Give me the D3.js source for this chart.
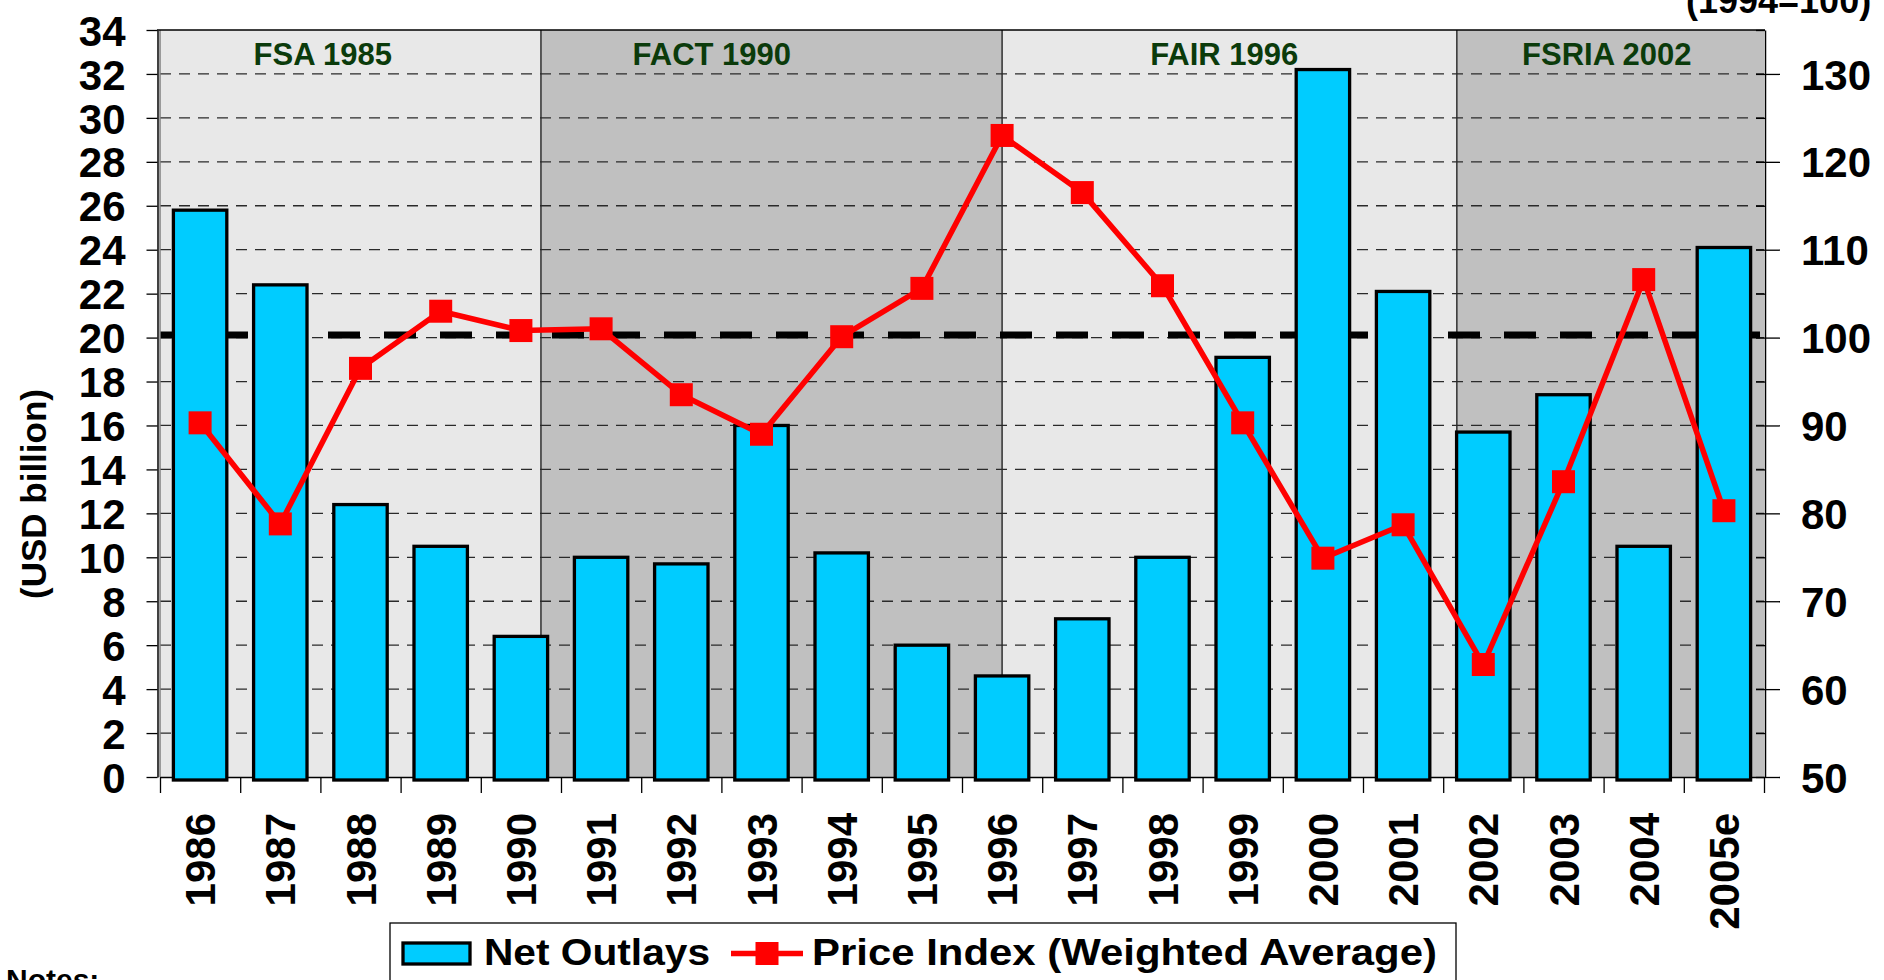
<!DOCTYPE html>
<html>
<head>
<meta charset="utf-8">
<script src="https://cdn.jsdelivr.net/npm/d3@7"></script>
<style>
  body { margin: 0; background: #fff; overflow: hidden; }
  svg { display: block; font-family: "Liberation Sans", Arial, sans-serif; font-weight: bold; }
</style>
</head>
<body>
<script>
// values
var years = ["1986", "1987", "1988", "1989", "1990", "1991", "1992", "1993", "1994", "1995",
  "1996", "1997", "1998", "1999", "2000", "2001", "2002", "2003", "2004", "2005e"];
var netOutlays = [25.8, 22.4, 12.4, 10.5, 6.4, 10.0, 9.7, 16.0, 10.2, 6.0,
  4.6, 7.2, 10.0, 19.1, 32.2, 22.1, 15.7, 17.4, 10.5, 24.1];
var priceIndex = [90.3, 78.8, 96.5, 103.0, 100.8, 101.0, 93.5, 89.0, 100.1, 105.6,
  123.0, 116.5, 105.9, 90.3, 74.9, 78.7, 62.8, 83.6, 106.6, 80.3];
var priceBase = 100.3;
var leftTicks = [0, 2, 4, 6, 8, 10, 12, 14, 16, 18, 20, 22, 24, 26, 28, 30, 32, 34];
var rightTicks = [50, 60, 70, 80, 90, 100, 110, 120, 130];
var seriesNames = ["Net Outlays", "Price Index (Weighted Average)"];

// farm acts, in category-index units
var actNames = ["FSA 1985", "FACT 1990", "FAIR 1996", "FSRIA 2002"];
var actFrom = [-0.5, 4.25, 10, 15.67];
var actTo = [4.25, 10, 15.67, 19.5];
var actLabelAt = [1.53, 6.38, 12.77, 17.54];

var actFill = ["#e8e8e8", "#c0c0c0", "#e8e8e8", "#c0c0c0"];
var barFill = "#00ccff", lineCol = "#ff0000", actText = "#0b3b0b";

var W = 1884, H = 980;
var m = { l: 160, r: 1764, t: 30, b: 777 };

var svg = d3.select("body").append("svg")
  .attr("width", W)
  .attr("height", H);

var x = d3.scaleBand().domain(years).range([m.l, m.r])
  .paddingInner(0.334).paddingOuter(0.167);
var xi = d3.scaleLinear().domain([-0.5, years.length - 0.5]).range([m.l, m.r]);
var yL = d3.scaleLinear().domain([0, 34]).range([m.b, m.t]);
var yR = d3.scaleLinear().domain([50, 135]).range([m.b, m.t]);
var cx = function(i) { return x(years[i]) + x.bandwidth() / 2; };

// act backgrounds
svg.selectAll("rect.act")
  .data(actNames)
  .enter().append("rect")
  .attr("class", "act")
  .attr("x", function(d, i) { return xi(actFrom[i]); })
  .attr("width", function(d, i) { return xi(actTo[i]) - xi(actFrom[i]); })
  .attr("y", m.t)
  .attr("height", m.b - m.t)
  .attr("fill", function(d, i) { return actFill[i]; });

svg.selectAll("line.actsep")
  .data(actFrom.slice(1))
  .enter().append("line")
  .attr("x1", function(d) { return xi(d); })
  .attr("x2", function(d) { return xi(d); })
  .attr("y1", m.t).attr("y2", m.b)
  .attr("stroke", "#3a3a3a")
  .attr("stroke-width", 1.6);

// gridlines
svg.selectAll("line.grid")
  .data(leftTicks.filter(function(d) { return d > 0 && d < 34; }))
  .enter().append("line")
  .attr("x1", m.l).attr("x2", m.r)
  .attr("y1", function(d) { return yL(d); })
  .attr("y2", function(d) { return yL(d); })
  .attr("stroke", "#2a2a2a")
  .attr("stroke-width", 1.3)
  .attr("stroke-dasharray", "11,8");

// 1994 = 100 reference
svg.append("line")
  .attr("x1", m.l).attr("x2", m.r)
  .attr("y1", yR(priceBase)).attr("y2", yR(priceBase))
  .attr("stroke", "#000")
  .attr("stroke-width", 7)
  .attr("stroke-dasharray", "32,24");

// plot frame
svg.append("line").attr("x1", m.l).attr("x2", m.l).attr("y1", m.t).attr("y2", m.b)
  .attr("stroke", "#808080").attr("stroke-width", 1.5);
svg.append("line").attr("x1", m.l - 3).attr("x2", m.r + 1).attr("y1", m.t).attr("y2", m.t)
  .attr("stroke", "#000").attr("stroke-width", 1.5);

// x axis (ticks between categories)
var gx = svg.append("g")
  .attr("transform", "translate(0," + m.b + ")")
  .call(d3.axisBottom(xi).tickValues(d3.range(-0.5, years.length, 1))
    .tickSize(16).tickSizeOuter(0).tickFormat(""));
gx.select(".domain").attr("stroke", "#000").attr("stroke-width", 1.5);
gx.selectAll(".tick line").attr("stroke", "#000").attr("stroke-width", 1.3);

// bars
svg.selectAll("rect.bar")
  .data(netOutlays)
  .enter().append("rect")
  .attr("class", "bar")
  .attr("x", function(d, i) { return x(years[i]); })
  .attr("width", x.bandwidth())
  .attr("y", function(d) { return yL(d); })
  .attr("height", function(d) { return yL(0) - yL(d) + 3; })
  .attr("fill", barFill)
  .attr("stroke", "#000")
  .attr("stroke-width", 3.3);

// price index line
var line = d3.line()
  .x(function(d, i) { return cx(i); })
  .y(function(d) { return yR(d); });

svg.append("path")
  .datum(priceIndex)
  .attr("d", line)
  .attr("fill", "none")
  .attr("stroke", lineCol)
  .attr("stroke-width", 5.5)
  .attr("stroke-linejoin", "round");

svg.selectAll("rect.mark")
  .data(priceIndex)
  .enter().append("rect")
  .attr("x", function(d, i) { return cx(i) - 11.5; })
  .attr("y", function(d) { return yR(d) - 11.5; })
  .attr("width", 23).attr("height", 23)
  .attr("fill", lineCol);

// act labels
svg.selectAll("text.act")
  .data(actNames)
  .enter().append("text")
  .attr("x", function(d, i) { return xi(actLabelAt[i]); })
  .attr("y", 65)
  .attr("text-anchor", "middle")
  .attr("font-size", 31)
  .attr("fill", actText)
  .text(function(d) { return d; });

// left axis
var gl = svg.append("g")
  .attr("transform", "translate(157.5,0)")
  .call(d3.axisLeft(yL).tickValues(leftTicks).tickSize(11).tickSizeOuter(0).tickPadding(21));
gl.select(".domain").attr("stroke", "#000").attr("stroke-width", 1.5);
gl.selectAll(".tick line").attr("stroke", "#000").attr("stroke-width", 1.3);
gl.selectAll(".tick text")
  .attr("font-size", 42).attr("font-family", null).attr("fill", "#000").attr("dy", "0.36em");

// right axis
var gr = svg.append("g")
  .attr("transform", "translate(1765,0)")
  .call(d3.axisRight(yR).tickValues(rightTicks).tickSize(15).tickSizeOuter(0).tickPadding(21));
gr.select(".domain").attr("stroke", "#000").attr("stroke-width", 1.5);
gr.selectAll(".tick line").attr("stroke", "#000").attr("stroke-width", 1.3);
gr.selectAll(".tick text")
  .attr("font-size", 42).attr("font-family", null).attr("fill", "#000").attr("dy", "0.36em");

svg.append("g")
  .attr("transform", "translate(1765,0)")
  .call(d3.axisRight(yR).tickValues(d3.range(50, 136, 5)).tickSize(-9).tickSizeOuter(0).tickFormat(""))
  .call(function(g) { g.select(".domain").remove(); })
  .selectAll(".tick line").attr("stroke", "#000").attr("stroke-width", 1.3);

// category labels
svg.selectAll("text.year")
  .data(years)
  .enter().append("text")
  .attr("transform", function(d, i) { return "translate(" + (cx(i) + 15) + ",813) rotate(-90)"; })
  .attr("text-anchor", "end")
  .attr("font-size", 42)
  .text(function(d) { return d; });

// axis titles
svg.append("text")
  .attr("transform", "translate(46,494) rotate(-90)")
  .attr("text-anchor", "middle")
  .attr("font-size", 35)
  .text("(USD billion)");

svg.append("text")
  .attr("x", 1686).attr("y", 13)
  .attr("font-size", 36)
  .text("(1994=100)");

// legend
var lg = svg.append("g");
lg.append("rect")
  .attr("x", 390).attr("y", 923).attr("width", 1066).attr("height", 80)
  .attr("fill", "#fff").attr("stroke", "#000").attr("stroke-width", 1.3);
lg.append("rect")
  .attr("x", 403).attr("y", 943).attr("width", 67).attr("height", 21)
  .attr("fill", barFill).attr("stroke", "#000").attr("stroke-width", 3.3);
lg.append("text")
  .attr("x", 484).attr("y", 965)
  .attr("font-size", 36)
  .attr("textLength", 226).attr("lengthAdjust", "spacingAndGlyphs")
  .text(seriesNames[0]);
lg.append("line")
  .attr("x1", 731).attr("x2", 803).attr("y1", 953.5).attr("y2", 953.5)
  .attr("stroke", lineCol).attr("stroke-width", 5.5);
lg.append("rect")
  .attr("x", 755.5).attr("y", 942).attr("width", 23).attr("height", 23)
  .attr("fill", lineCol);
lg.append("text")
  .attr("x", 812).attr("y", 965)
  .attr("font-size", 36)
  .attr("textLength", 625).attr("lengthAdjust", "spacingAndGlyphs")
  .text(seriesNames[1]);

svg.append("text")
  .attr("x", 6).attr("y", 990)
  .attr("font-size", 30)
  .text("Notes:");
</script>
</body>
</html>
